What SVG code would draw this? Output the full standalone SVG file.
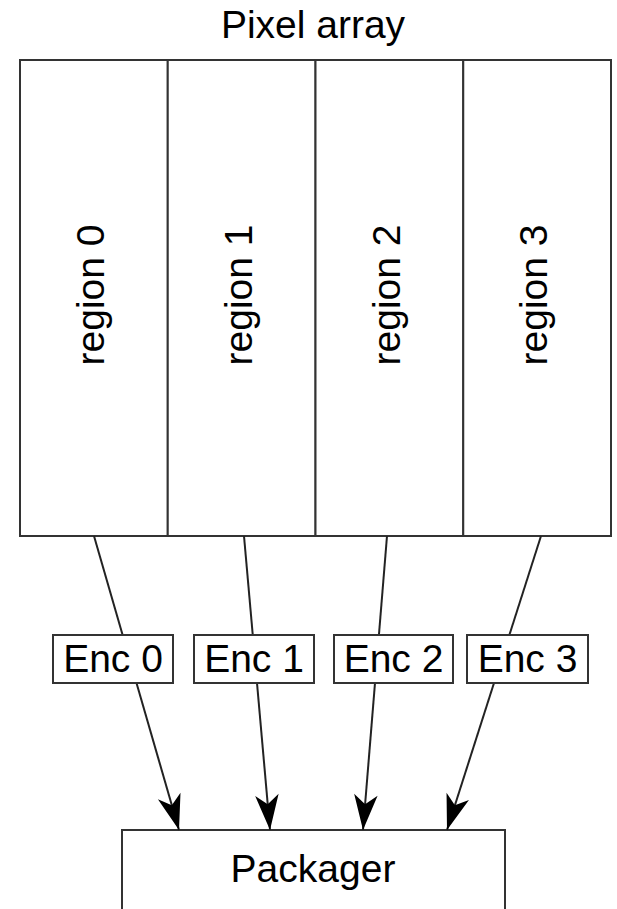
<svg xmlns="http://www.w3.org/2000/svg" width="617" height="909" viewBox="0 0 617 909">
<defs>
<style>
.box{fill:#fff;stroke:#333;stroke-width:2}
.t{font-family:"Liberation Sans",Arial,sans-serif;font-size:39px;fill:#000;text-anchor:middle}
.e{fill:none;stroke:#222;stroke-width:2}
</style>
<marker id="arr" markerUnits="userSpaceOnUse" markerWidth="40" markerHeight="30" viewBox="-32 -12 34 24" refX="0" refY="0" orient="auto">
<path d="M0,0 L-30,-10 L-22,0 L-30,10 Z" fill="#000"/>
</marker>
</defs>
<rect width="617" height="909" fill="#fff"/>
<g id="pixel-array">
<text class="t" x="313" y="38">Pixel array</text>
</g>
<g id="region0"><rect class="box" x="20" y="60" width="147.75" height="476"/><text class="t" transform="translate(104,295) rotate(-90)">region 0</text></g>
<g id="region1"><rect class="box" x="167.75" y="60" width="147.75" height="476"/><text class="t" transform="translate(252,295) rotate(-90)">region 1</text></g>
<g id="region2"><rect class="box" x="315.5" y="60" width="147.75" height="476"/><text class="t" transform="translate(400,295) rotate(-90)">region 2</text></g>
<g id="region3"><rect class="box" x="463.25" y="60" width="147.75" height="476"/><text class="t" transform="translate(547,295) rotate(-90)">region 3</text></g>
<g id="packager"><rect class="box" x="122" y="830" width="383" height="100"/><text class="t" x="313" y="882">Packager</text></g>
<g id="connectors">
<line class="e" x1="94" y1="536" x2="179" y2="830" marker-end="url(#arr)"/>
<line class="e" x1="244" y1="536" x2="270" y2="830" marker-end="url(#arr)"/>
<line class="e" x1="387" y1="536" x2="363" y2="830" marker-end="url(#arr)"/>
<line class="e" x1="541" y1="536" x2="447" y2="830" marker-end="url(#arr)"/>
</g>
<g id="enc0"><rect class="box" x="53" y="635" width="120" height="48"/><text class="t" x="113" y="672">Enc 0</text></g>
<g id="enc1"><rect class="box" x="194" y="635" width="120" height="48"/><text class="t" x="254" y="672">Enc 1</text></g>
<g id="enc2"><rect class="box" x="334" y="635" width="119" height="48"/><text class="t" x="393.5" y="672">Enc 2</text></g>
<g id="enc3"><rect class="box" x="467" y="635" width="121" height="48"/><text class="t" x="527.5" y="672">Enc 3</text></g>
</svg>
